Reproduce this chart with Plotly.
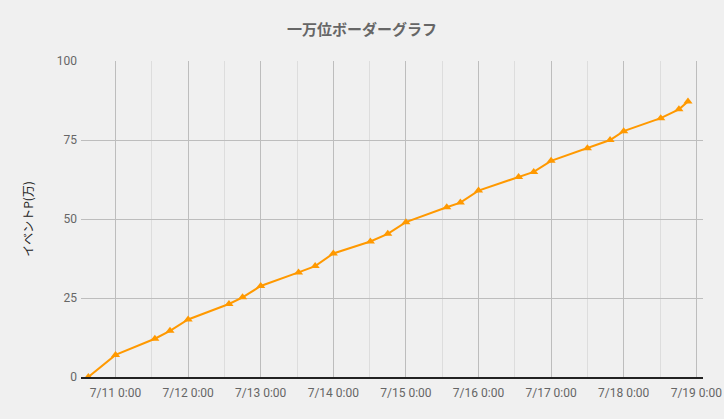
import plotly.graph_objects as go

times = [
    "2023-07-10 15:00", "2023-07-11 00:00", "2023-07-11 13:00", "2023-07-11 18:00",
    "2023-07-12 00:00", "2023-07-12 13:30", "2023-07-12 18:00", "2023-07-13 00:00",
    "2023-07-13 12:30", "2023-07-13 18:00", "2023-07-14 00:00", "2023-07-14 12:15",
    "2023-07-14 18:00", "2023-07-15 00:00", "2023-07-15 13:30", "2023-07-15 18:00",
    "2023-07-16 00:00", "2023-07-16 13:15", "2023-07-16 18:15", "2023-07-17 00:00",
    "2023-07-17 12:00", "2023-07-17 19:30", "2023-07-18 00:00", "2023-07-18 12:15",
    "2023-07-18 18:15", "2023-07-18 21:15",
]
points = [
    0.0, 7.0, 12.1, 14.6,
    18.2, 23.1, 25.2, 28.8,
    33.1, 35.1, 39.1, 42.9,
    45.3, 49.0, 53.7, 55.2,
    59.0, 63.3, 64.9, 68.4,
    72.4, 75.0, 77.8, 81.9,
    84.7, 87.2,
]
tick_vals = ["2023-07-%02d 00:00" % d for d in range(11, 20)]
tick_text = ["7/%d 0:00" % d for d in range(11, 20)]
y_ticks = [0, 25, 50, 75, 100]

fig = go.Figure()
fig.add_trace(go.Scatter(
    x=times, y=points, mode="lines+markers",
    line=dict(color="#ff9900", width=2),
    marker=dict(symbol="triangle-up", size=8, color="#ff9900"),
    showlegend=False,
))

fig.update_layout(
    width=724, height=419,
    margin=dict(l=81, r=21, t=61, b=42),
    paper_bgcolor="#f0f0f0", plot_bgcolor="#f0f0f0",
    font=dict(family="Roboto, sans-serif", size=12, color="#666666"),
    title=dict(text="一万位ボーダーグラフ", x=0.5, xanchor="center", y=1 - 30 / 419, yanchor="middle",
               font=dict(family="Noto Sans CJK JP", size=15, color="#666666", weight="bold")),
)
fig.update_xaxes(
    type="date", automargin=False,
    range=["2023-07-10 12:35", "2023-07-19 02:13"],
    tickvals=tick_vals, ticktext=tick_text,
    showgrid=True, gridcolor="#bdbdbd", gridwidth=1,
    minor=dict(dtick=43200000, tick0="2023-07-10 00:00", showgrid=True, gridcolor="#dddddd", gridwidth=1),
    showline=True, linecolor="#222222", linewidth=1.5,
    zeroline=False, ticks="", ticklabelstandoff=4, tickfont=dict(size=12, color="#666666"),
)
fig.update_yaxes(
    range=[0, 100], tickvals=y_ticks, automargin=False,
    showgrid=True, gridcolor="#bdbdbd", gridwidth=1,
    zeroline=False, showline=False, ticks="", ticklabelstandoff=3,
    tickfont=dict(size=12, color="#666666"),
    title=dict(text="イベントP(万)", font=dict(family="Noto Sans CJK JP", size=12, color="#222222"), standoff=20),
)

fig.write_html("out.html", config={"displayModeBar": False},
               post_script="document.body.style.margin='0';document.body.style.background='#f0f0f0';")
